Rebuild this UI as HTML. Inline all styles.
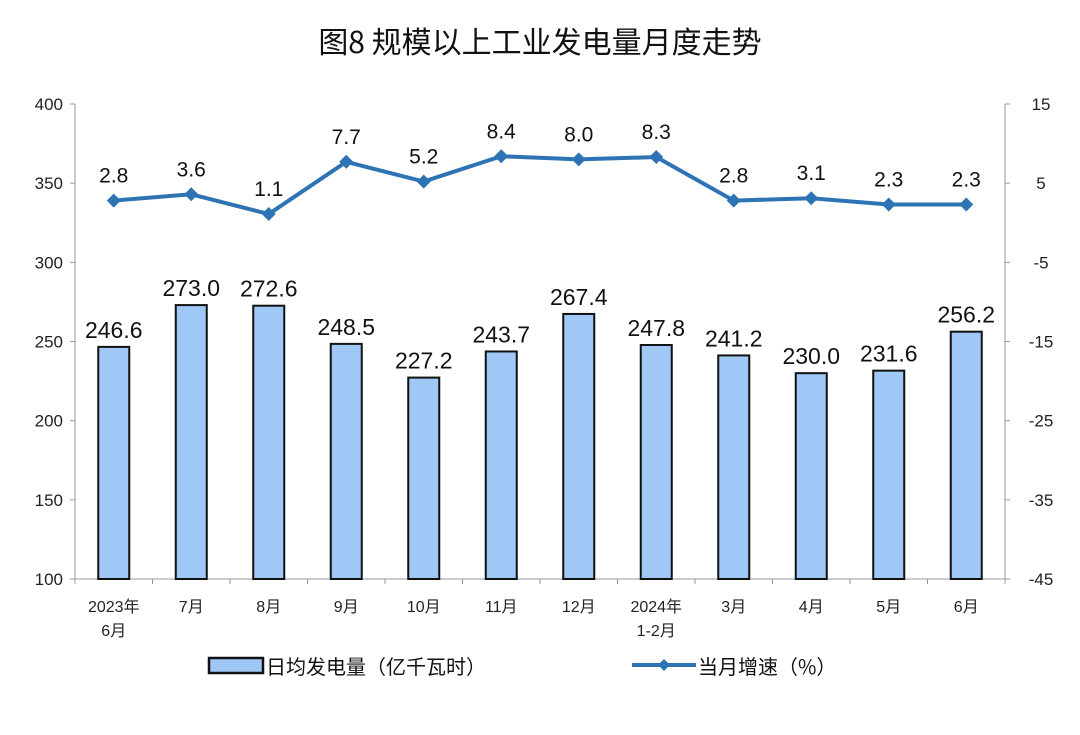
<!DOCTYPE html>
<html><head><meta charset="utf-8"><style>
body{margin:0;background:#fff;}
svg text{font-family:"Liberation Sans","Noto Sans CJK SC",sans-serif;}
</style></head><body>
<svg id="c" width="1080" height="730" xmlns="http://www.w3.org/2000/svg">
<rect width="1080" height="730" fill="#fff"/>
<text x="540" y="53" text-anchor="middle" font-size="30" fill="#111" style="font-family:'Noto Sans CJK SC',sans-serif">图8  规模以上工业发电量月度走势</text>
<g id="g"></g>
</svg>
<script>
const categories=["2023年|6月","7月","8月","9月","10月","11月","12月","2024年|1-2月","3月","4月","5月","6月"];
const barValues=[246.6,273.0,272.6,248.5,227.2,243.7,267.4,247.8,241.2,230.0,231.6,256.2];
const lineValues=[2.8,3.6,1.1,7.7,5.2,8.4,8.0,8.3,2.8,3.1,2.3,2.3];
const leftTicks=[100,150,200,250,300,350,400];
const rightTicks=[-45,-35,-25,-15,-5,5,15];
const NS="http://www.w3.org/2000/svg",g=document.getElementById('g');
const X0=75,X1=1005,Y0=579,Y1=104;
const step=(X1-X0)/categories.length;
const xc=i=>X0+step*(i+0.5);
const yl=v=>Y0-(v-100)/300*(Y0-Y1);
const yr=v=>Y0-(v+45)/60*(Y0-Y1);
function el(t,a,txt){const e=document.createElementNS(NS,t);for(const k in a)e.setAttribute(k,a[k]);if(txt!==undefined)e.textContent=txt;g.appendChild(e);return e;}
let e;
e=el('line',{x1:X0,y1:Y1,x2:X0,y2:Y0,stroke:'#999'});


e=el('line',{x1:X1,y1:Y1,x2:X1,y2:Y0,stroke:'#999'});


e=el('line',{x1:X0,y1:Y0,x2:X1,y2:Y0,stroke:'#999'});


leftTicks.forEach(v=>{
 el('line',{x1:X0-5,y1:yl(v),x2:X0,y2:yl(v),stroke:'#999'});
 e=el('text',{x:X0-12,y:yl(v)+6,'text-anchor':'end','font-size':17,fill:'#222'},v);
 
 
});
rightTicks.forEach(v=>{
 el('line',{x1:X1,y1:yr(v),x2:X1+5,y2:yr(v),stroke:'#999'});
 e=el('text',{x:X1+36,y:yr(v)+6,'text-anchor':'middle','font-size':17,fill:'#222'},v);
 
 
});
for(let i=0;i<=categories.length;i++)el('line',{x1:X0+step*i,y1:Y0,x2:X0+step*i,y2:Y0+5,stroke:'#999'});
categories.forEach((c,i)=>{
 c.split('|').forEach((p,j)=>{
  e=el('text',{x:xc(i),y:612+j*24,'text-anchor':'middle','font-size':16,fill:'#222'},p);
  
  
 });
});
const bw=31;
barValues.forEach((v,i)=>{
 e=el('rect',{x:xc(i)-bw/2,y:yl(v),width:bw,height:Y0-yl(v),fill:'#9fc8f7',stroke:'#111','stroke-width':2});
 
 
 e=el('text',{x:xc(i),y:yl(v)-9,'text-anchor':'middle','font-size':23,fill:'#111'},v.toFixed(1));
 
 
});
e=el('polyline',{points:lineValues.map((v,i)=>xc(i)+','+yr(v)).join(' '),fill:'none',stroke:'#2e74b5','stroke-width':4});


lineValues.forEach((v,i)=>{
 const x=xc(i),y=yr(v);
 e=el('polygon',{points:`${x},${y-7} ${x+7},${y} ${x},${y+7} ${x-7},${y}`,fill:'#2e74b5'});
 
 
 e=el('text',{x:x,y:y-18,'text-anchor':'middle','font-size':21,fill:'#111'},v.toFixed(1));
 
 
});
e=el('rect',{x:209,y:658,width:54,height:15,fill:'#9fc8f7',stroke:'#111','stroke-width':2.5});


e=el('text',{x:266,y:674,'font-size':20,fill:'#111',style:"font-family:'Noto Sans CJK SC',sans-serif"},'日均发电量（亿千瓦时）');


e=el('line',{x1:632,y1:665,x2:696,y2:665,stroke:'#2e74b5','stroke-width':4});


el('polygon',{points:'664,659 670,665 664,671 658,665',fill:'#2e74b5'});
e=el('text',{x:698,y:674,'font-size':20,fill:'#111',style:"font-family:'Noto Sans CJK SC',sans-serif"},'当月增速（%）');


</script>
</body></html>
